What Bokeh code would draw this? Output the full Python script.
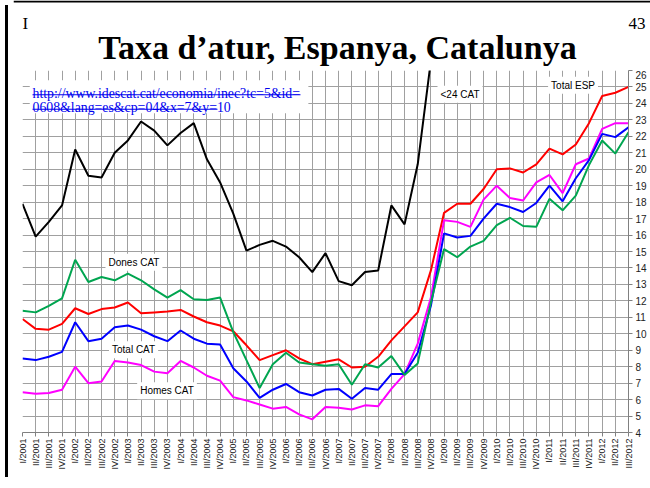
import math
from bokeh.plotting import figure
from bokeh.layouts import column, row
from bokeh.models import Label, BoxAnnotation, Range1d, FixedTicker, Div
from bokeh.embed import file_html
from bokeh.resources import INLINE

quarters = []
for yr in range(2001, 2013):
    for q in ["I", "II", "III", "IV"]:
        quarters.append(f"{q}/{yr}")
quarters = quarters[:47]

y_ticks = list(range(4, 27))

menors24_cat = [17.9, 15.9, 16.8, 17.8, 21.2, 19.6, 19.5, 21.0, 21.75, 22.9,
                22.35, 21.45, 22.2, 22.8, 20.6, 19.2, 17.3, 15.05, 15.4, 15.65,
                15.3, 14.65, 13.75, 14.9, 13.2, 12.95, 13.75, 13.85, 17.8, 16.65,
                20.3, 26.6]
total_esp = [10.9, 10.3, 10.25, 10.6, 11.55, 11.2, 11.5, 11.6, 11.9, 11.25,
             11.3, 11.35, 11.45, 11.05, 10.7, 10.5, 10.15, 9.3, 8.4, 8.7,
             9.0, 8.5, 8.15, 8.3, 8.45, 7.95, 8.0, 8.6, 9.6, 10.45,
             11.3, 13.85, 17.35, 17.9, 17.9, 18.8, 20.0, 20.05, 19.8, 20.3,
             21.25, 20.9, 21.5, 22.8, 24.45, 24.65, 25.0]
dones_cat = [11.4, 11.3, 11.7, 12.15, 14.5, 13.15, 13.45, 13.25, 13.65, 13.25,
             12.7, 12.2, 12.65, 12.1, 12.05, 12.2, 10.1, 8.4, 6.7, 8.15,
             8.85, 8.25, 8.15, 8.05, 8.15, 6.9, 8.15, 7.95, 8.65, 7.5,
             8.2, 11.9, 15.15, 14.65, 15.3, 15.65, 16.6, 17.05, 16.55, 16.5,
             18.2, 17.5, 18.4, 20.25, 21.75, 20.95, 22.25]
total_cat = [8.5, 8.4, 8.6, 8.9, 10.7, 9.55, 9.7, 10.4, 10.5, 10.25,
             9.85, 9.55, 10.2, 9.7, 9.4, 9.35, 7.9, 7.1, 6.1, 6.6,
             6.95, 6.45, 6.25, 6.6, 6.65, 6.05, 6.7, 6.6, 7.55, 7.55,
             8.85, 11.7, 16.1, 15.85, 15.95, 17.0, 17.9, 17.7, 17.4, 17.95,
             19.0, 18.05, 19.45, 20.55, 22.15, 21.95, 22.55]
homes_cat = [6.45, 6.35, 6.4, 6.6, 8.0, 7.0, 7.1, 8.35, 8.25, 8.1,
             7.7, 7.6, 8.35, 7.95, 7.45, 7.15, 6.15, 5.95, 5.7, 5.45,
             5.55, 5.1, 4.8, 5.55, 5.5, 5.4, 5.65, 5.6, 6.65, 7.55,
             9.4, 12.2, 16.9, 16.8, 16.5, 18.15, 19.0, 18.25, 18.1, 19.2,
             19.65, 18.55, 20.3, 20.65, 22.45, 22.8, 22.8]

xs = list(range(len(quarters)))

W = 639
HH = 70
# ---- header (title row), pixel-like coordinates, y measured upward ----
head = figure(width=W, height=HH, x_range=Range1d(0, W), y_range=Range1d(0, HH),
              x_axis_type=None, y_axis_type=None,
              output_backend="svg", toolbar_location=None,
              min_border=0, min_border_left=0, min_border_right=0,
              min_border_top=0, min_border_bottom=0)
head.frame_align = False
head.grid.visible = False
head.outline_line_color = None
head.add_layout(BoxAnnotation(left=0, right=W, top=HH, bottom=HH - 2,
                              fill_color="black", fill_alpha=1, line_alpha=0))
head.add_layout(Label(x=324, y=HH - 47, text="Taxa d’atur, Espanya, Catalunya",
                      text_align="center", text_baseline="alphabetic",
                      text_font="Liberation Serif", text_font_style="bold",
                      text_font_size="34px", text_color="black"))
head.add_layout(Label(x=9, y=HH - 23, text="I", text_align="left", text_baseline="alphabetic",
                      text_font="Liberation Serif", text_font_size="17px", text_color="black"))
head.add_layout(Label(x=632, y=HH - 23, text="43", text_align="right", text_baseline="alphabetic",
                      text_font="Liberation Serif", text_font_size="17px", text_color="black"))

# ---- main chart ----
p = figure(width=W, height=402, x_range=Range1d(0, 46), y_range=Range1d(4, 26),
           output_backend="svg", toolbar_location=None, y_axis_location="right",
           min_border_left=9, min_border_right=24, min_border_top=0,
           min_border_bottom=37)
p.frame_align = False
p.outline_line_color = None
p.background_fill_color = "white"

grid_col = "#a0a0a0"
p.xgrid.ticker = FixedTicker(ticks=xs)
p.ygrid.ticker = FixedTicker(ticks=y_ticks)
p.xgrid.grid_line_color = grid_col
p.ygrid.grid_line_color = grid_col

p.xaxis.ticker = FixedTicker(ticks=xs)
p.xaxis.major_label_overrides = {i: q for i, q in enumerate(quarters)}
p.xaxis.major_label_orientation = math.pi / 2
p.yaxis.ticker = FixedTicker(ticks=y_ticks)
for ax in (p.xaxis, p.yaxis):
    ax.axis_line_color = "#808080"
    ax.major_tick_line_color = "#808080"
    ax.major_tick_in = 0
    ax.major_tick_out = 4
    ax.minor_tick_line_color = None
    ax.major_label_text_font = "Liberation Sans"
    ax.major_label_text_font_size = "9px"
    ax.major_label_text_color = "#222222"
    ax.major_label_standoff = 2
p.yaxis.major_label_text_font_size = "10px"
p.yaxis.major_label_standoff = 3

lw = 2
p.line(xs[:len(menors24_cat)], menors24_cat, line_color="black", line_width=lw)
p.line(xs, total_esp, line_color="#ff0000", line_width=lw)
p.line(xs, homes_cat, line_color="#ff00ff", line_width=lw)
p.line(xs, total_cat, line_color="#0000ff", line_width=lw)
p.line(xs, dones_cat, line_color="#00a550", line_width=lw)

def lab(text, x, y):
    p.add_layout(Label(x=x, y=y, text=text, text_align="center", text_baseline="middle",
                       text_font="Liberation Sans", text_font_size="10px", text_color="black",
                       background_fill_color="white", padding=3))

lab("Dones CAT", 8.46, 14.34)
lab("Total CAT", 8.43, 9.03)
lab("Homes CAT", 10.97, 6.53)
lab("<24 CAT", 33.21, 24.55)
lab("Total ESP", 41.79, 25.1)

# URL box (white background, two text lines, underlines)
p.add_layout(BoxAnnotation(left=0.55, right=21.7, bottom=23.4, top=25.4,
                           fill_color="white", fill_alpha=1, line_alpha=0))
url_lines = ["http://www.idescat.cat/economia/inec?tc=5&id=", "0608&lang=es&cp=04&x=7&y=10"]
for txt, yb in zip(url_lines, [24.614, 23.74]):
    p.add_layout(Label(x=0.76, y=yb, text=txt, text_align="left", text_baseline="alphabetic",
                       text_font="Liberation Serif", text_font_size="13.8px",
                       text_color="#0000ee"))
p.add_layout(BoxAnnotation(left=0.76, right=21.1, bottom=24.493, top=24.553,
                           fill_color="#0000ee", fill_alpha=1, line_alpha=0))
p.add_layout(BoxAnnotation(left=0.76, right=14.8, bottom=23.62, top=23.68,
                           fill_color="#0000ee", fill_alpha=1, line_alpha=0))

left_bar = Div(text="", width=3, height=472, styles={"background-color": "black"})
layout = row(left_bar, column(head, p, spacing=0), spacing=0)

open("out.html", "w").write(file_html(layout, INLINE))
